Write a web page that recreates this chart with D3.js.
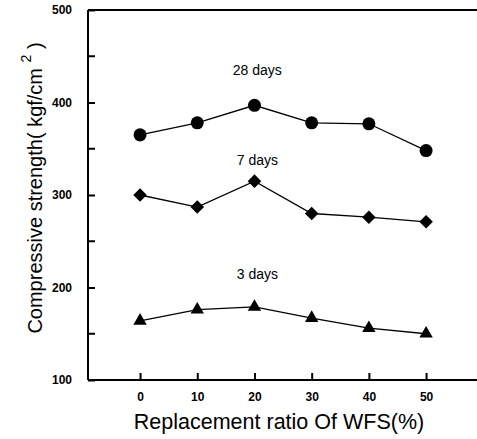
<!DOCTYPE html>
<html>
<head>
<meta charset="utf-8">
<script src="https://cdn.jsdelivr.net/npm/d3@7"></script>
<style>
  body { margin: 0; background: #fff; }
  svg { display: block; }
</style>
</head>
<body>
<div id="chart"></div>
<script>
// data
const ratios = [0, 10, 20, 30, 40, 50];
const days28 = [365, 378, 397, 378, 377, 348];
const days7 = [300, 287, 315, 280, 276, 271];
const days3 = [164, 176, 179, 167, 156, 150];
const yTicks = [100, 200, 300, 400, 500];
const yMinorTicks = [150, 250, 350, 450];

var margin = { top: 10, right: 0, bottom: 59, left: 88 },
  width = 477 - margin.left - margin.right,
  height = 439 - margin.top - margin.bottom;

var svg = d3.select("#chart").append("svg")
  .attr("width", 477)
  .attr("height", 439)
  .append("g")
  .attr("transform", "translate(" + margin.left + "," + margin.top + ")");

var x = d3.scaleLinear().domain([-9.1, 58.9]).range([0, width]);
var y = d3.scaleLinear().domain([100, 500]).range([height, 0]);

// frame: left, bottom, top
svg.append("line").attr("x1", 0).attr("x2", 0).attr("y1", 0).attr("y2", height)
  .attr("stroke", "#000").attr("stroke-width", 2);
svg.append("line").attr("x1", 0).attr("x2", width).attr("y1", height).attr("y2", height)
  .attr("stroke", "#000").attr("stroke-width", 2);
svg.append("line").attr("x1", 0).attr("x2", width).attr("y1", 0).attr("y2", 0)
  .attr("stroke", "#000").attr("stroke-width", 2);

const tickFont = "'Liberation Sans Narrow', 'Liberation Sans', sans-serif";

// y axis ticks inward
var yAxis = d3.axisLeft(y).tickValues(yTicks).tickSize(-7).tickPadding(16);
var yg = svg.append("g").call(yAxis);
yg.select(".domain").remove();
yg.selectAll(".tick line").attr("stroke-width", 2);
yg.selectAll(".tick text")
  .attr("font-family", tickFont)
  .attr("font-weight", "bold").attr("font-size", "12px").attr("fill", "#000");

svg.append("g").selectAll("line").data(yMinorTicks).enter().append("line")
  .attr("x1", 0).attr("x2", 7)
  .attr("y1", d => y(d)).attr("y2", d => y(d))
  .attr("stroke", "#000").attr("stroke-width", 2);

// x axis ticks inward
var xAxis = d3.axisBottom(x).tickValues(ratios).tickSize(-7).tickPadding(12);
var xg = svg.append("g").attr("transform", "translate(0," + height + ")").call(xAxis);
xg.select(".domain").remove();
xg.selectAll(".tick line").attr("stroke-width", 2);
xg.selectAll(".tick text")
  .attr("font-family", tickFont)
  .attr("font-weight", "bold").attr("font-size", "12px").attr("fill", "#000");

// series
const series = [
  { values: days28, symbol: d3.symbolCircle, size: 133, rot: 0 },
  { values: days7, symbol: d3.symbolSquare, size: 92, rot: 45 },
  { values: days3, symbol: d3.symbolTriangle, size: 78, rot: 0 }
];

var line = d3.line().x((d, i) => x(ratios[i])).y(d => y(d));

series.forEach(s => {
  svg.append("path").datum(s.values)
    .attr("d", line)
    .attr("fill", "none").attr("stroke", "#000").attr("stroke-width", 1.3);
  svg.append("g").selectAll("path").data(s.values).enter().append("path")
    .attr("d", d3.symbol().type(s.symbol).size(s.size))
    .attr("transform", (d, i) => "translate(" + x(ratios[i]) + "," + y(d) + ") rotate(" + s.rot + ")")
    .attr("fill", "#000");
});

// series labels
const labels = [
  { text: "28 days", v: 430 },
  { text: "7 days", v: 332 },
  { text: "3 days", v: 209 }
];
svg.selectAll(".lbl").data(labels).enter().append("text")
  .attr("class", "lbl")
  .attr("x", x(20.5))
  .attr("y", d => y(d.v))
  .attr("text-anchor", "middle")
  .attr("font-family", "'Liberation Sans', Arial, sans-serif")
  .attr("font-size", "14px")
  .text(d => d.text);

// axis titles
svg.append("text")
  .attr("x", 279 - margin.left)
  .attr("y", 429 - margin.top)
  .attr("text-anchor", "middle")
  .attr("font-family", "'Liberation Sans', Arial, sans-serif")
  .attr("font-size", "21.5px")
  .text("Replacement ratio Of WFS(%)");

var yt = svg.append("text")
  .attr("transform", "rotate(-90)")
  .attr("x", -(188 - margin.top))
  .attr("y", 42 - margin.left)
  .attr("text-anchor", "middle")
  .attr("font-family", "'Liberation Sans', Arial, sans-serif")
  .attr("font-size", "20px");
yt.append("tspan").text("Compressive strength( kgf/cm ");
yt.append("tspan").attr("dy", -11).attr("font-size", "14px").text("2");
yt.append("tspan").attr("dy", 11).text("  )");
</script>
</body>
</html>
